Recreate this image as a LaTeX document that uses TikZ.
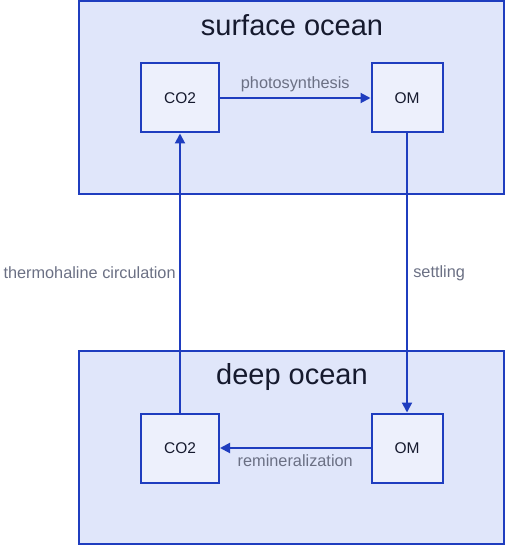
\documentclass[tikz,border=0pt]{standalone}
\usepackage{fontspec}
\setmainfont{Liberation Sans}
\usetikzlibrary{arrows.meta}
\definecolor{edgeblue}{HTML}{1F3DBF}
\definecolor{clusterfill}{HTML}{E0E6FA}
\definecolor{nodefill}{HTML}{EDF0FC}
\definecolor{labelgrey}{HTML}{6B7084}
\definecolor{titlecol}{HTML}{161A2E}
\begin{document}
\begin{tikzpicture}[x=1pt,y=-1pt,
  cluster/.style={draw=edgeblue,line width=2pt,fill=clusterfill},
  statebox/.style={draw=edgeblue,line width=2pt,fill=nodefill,minimum width=78pt,minimum height=69pt,inner sep=0pt,font=\fontsize{15.5}{18}\selectfont,text=titlecol},
  ctitle/.style={font=\fontsize{29}{34}\selectfont,text=titlecol},
  flow/.style={draw=edgeblue,line width=2pt,-{Triangle[length=10pt,width=10pt]}},
  flowlabel/.style={font=\fontsize{16.3}{19}\selectfont,text=labelgrey}]
\useasboundingbox (0,0) rectangle (506,545);
\path[cluster] (79,1) rectangle (504,194);
\path[cluster] (79,351) rectangle (504,544);
\node[ctitle] (t1) at (292,25) {surface ocean};
\node[ctitle] (t2) at (292,377) {deep ocean};
\node[statebox] (sco2) at (180,98) {CO2};
\node[statebox,minimum width=71pt] (som) at (407,98) {OM};
\node[statebox] (dco2) at (180,448) {CO2};
\node[statebox,minimum width=71pt] (dom) at (407,448) {OM};
\draw[flow] (sco2) -- node[flowlabel,above=2pt] {photosynthesis} (som);
\draw[flow] (som.south) -- node[flowlabel,right=2pt] {settling} (dom.north);
\draw[flow] (dom) -- node[flowlabel,below=2pt] {remineralization} (dco2);
\draw[flow] (dco2.north) -- node[flowlabel,left=0pt] {thermohaline circulation} (sco2.south);
\end{tikzpicture}
\end{document}
